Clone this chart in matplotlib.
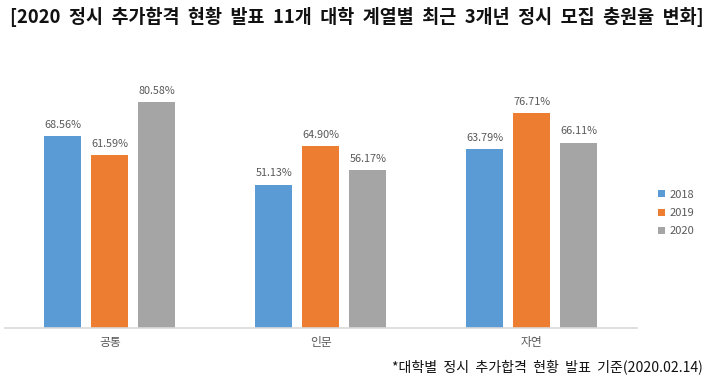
import matplotlib
matplotlib.use("Agg")
import matplotlib.pyplot as plt
import numpy as np

plt.rcParams['font.family'] = ['Noto Sans CJK KR', 'DejaVu Sans']

categories = ['공통', '인문', '자연']
years = ['2018', '2019', '2020']
v2018 = [68.56, 51.13, 63.79]
v2019 = [61.59, 64.90, 76.71]
v2020 = [80.58, 56.17, 66.11]
colors = ['#5B9BD5', '#ED7D31', '#A5A5A5']

fig = plt.figure(figsize=(7.11, 3.81), dpi=100)
ax = fig.add_axes([4.5/711, 1-328/381, (637-4.5)/711, (328-47.5)/381])

x = np.arange(len(categories))
width = 0.175
step = 0.223
for i, (vals, c, lab) in enumerate(zip([v2018, v2019, v2020], colors, years)):
    pos = x + (i-1)*step
    bars = ax.bar(pos, vals, width, color=c, label=lab)
    for p, v in zip(pos, vals):
        ax.text(p, v + 2.2, f'{v:.2f}%', ha='center', va='bottom', fontsize=7.8, color='#595959')

ax.set_xlim(-0.5, 2.5)
ax.set_ylim(0, 100)
for s in ['top', 'right', 'left']:
    ax.spines[s].set_visible(False)
ax.spines['bottom'].set_color('#D9D9D9')
ax.spines['bottom'].set_linewidth(1.2)
ax.set_yticks([])
ax.set_xticks(x)
ax.set_xticklabels(categories, fontsize=8.5, color='#595959')
ax.tick_params(axis='x', length=0, pad=6)

leg = fig.legend(loc='center left', bbox_to_anchor=(648/711, 1-213/381), frameon=False,
                 fontsize=8, handlelength=0.6, handleheight=0.6, handletextpad=0.4,
                 labelspacing=0.75, labelcolor='#595959')

title = '[2020 정시 추가합격 현황 발표 11개 대학 계열별 최근 3개년 정시 모집 충원율 변화]'
fig.text(10/711, 1-17/381, title.replace(' ', '  '),
         fontsize=13.3, fontweight='bold', ha='left', va='center', color='#111111')
note = '*대학별 정시 추가합격 현황 발표 기준(2020.02.14)'
fig.text(703/711, 1-367/381, note.replace(' ', '  '),
         fontsize=10.1, ha='right', va='center', color='#111111')

fig.savefig('out.png', dpi=100)
